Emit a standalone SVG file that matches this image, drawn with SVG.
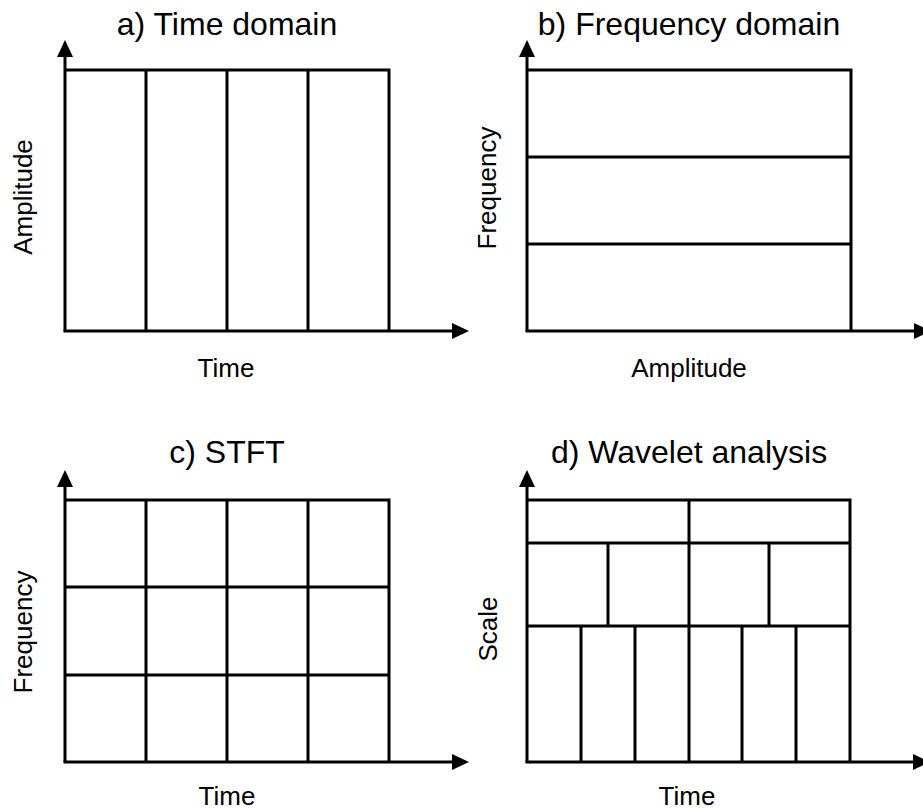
<svg xmlns="http://www.w3.org/2000/svg" width="923" height="809" viewBox="0 0 923 809">
<style>
.ax{stroke:#000;stroke-width:3;fill:none}
.gr{stroke:#000;stroke-width:3;fill:none}
.t{font-family:"Liberation Sans",Arial,sans-serif;font-size:32px;fill:#000;text-anchor:middle}
.l{font-family:"Liberation Sans",Arial,sans-serif;font-size:26px;fill:#000;text-anchor:middle}
</style>
<defs>
<marker id="arr" viewBox="0 0 17 16" markerWidth="17" markerHeight="16" refX="0" refY="8" orient="auto" markerUnits="userSpaceOnUse">
<path d="M0,0 L17,8 L0,16 z" fill="#000"/>
</marker>
</defs>
<rect width="923" height="809" fill="#fff"/>

<g id="panel-a">
<text class="t" x="227" y="35">a) Time domain</text>
<path class="gr" d="M65,70 H389 V331 M146,70 V331 M227,70 V331 M308,70 V331"/>
<line class="ax" x1="65" y1="331" x2="65" y2="57" marker-end="url(#arr)"/>
<line class="ax" x1="63.5" y1="331" x2="452" y2="331" marker-end="url(#arr)"/>
<text class="l" transform="translate(32,197) rotate(-90)">Amplitude</text>
<text class="l" x="226" y="377">Time</text>
</g>

<g id="panel-b">
<text class="t" x="689" y="35">b) Frequency domain</text>
<path class="gr" d="M527,70 H851 V331 M527,157 H851 M527,244 H851"/>
<line class="ax" x1="527" y1="331" x2="527" y2="57" marker-end="url(#arr)"/>
<line class="ax" x1="525.5" y1="331" x2="914" y2="331" marker-end="url(#arr)"/>
<text class="l" transform="translate(496,188) rotate(-90)">Frequency</text>
<text class="l" x="689" y="377">Amplitude</text>
</g>

<g id="panel-c">
<text class="t" x="227" y="463">c) STFT</text>
<path class="gr" d="M65,500 H389 V762 M146,500 V762 M227,500 V762 M308,500 V762 M65,587 H389 M65,675 H389"/>
<line class="ax" x1="65" y1="762" x2="65" y2="487" marker-end="url(#arr)"/>
<line class="ax" x1="63.5" y1="762" x2="452" y2="762" marker-end="url(#arr)"/>
<text class="l" transform="translate(32,632) rotate(-90)">Frequency</text>
<text class="l" x="227" y="805">Time</text>
</g>

<g id="panel-d">
<text class="t" x="689" y="463">d) Wavelet analysis</text>
<path class="gr" d="M527,500 H850 V762 M527,543 H850 M527,626 H850 M689,500 V762 M608,543 V626 M769,543 V626 M581,626 V762 M635,626 V762 M742,626 V762 M796,626 V762"/>
<line class="ax" x1="527" y1="762" x2="527" y2="487" marker-end="url(#arr)"/>
<line class="ax" x1="525.5" y1="762" x2="913" y2="762" marker-end="url(#arr)"/>
<text class="l" transform="translate(497,629) rotate(-90)">Scale</text>
<text class="l" x="687" y="805">Time</text>
</g>
</svg>
